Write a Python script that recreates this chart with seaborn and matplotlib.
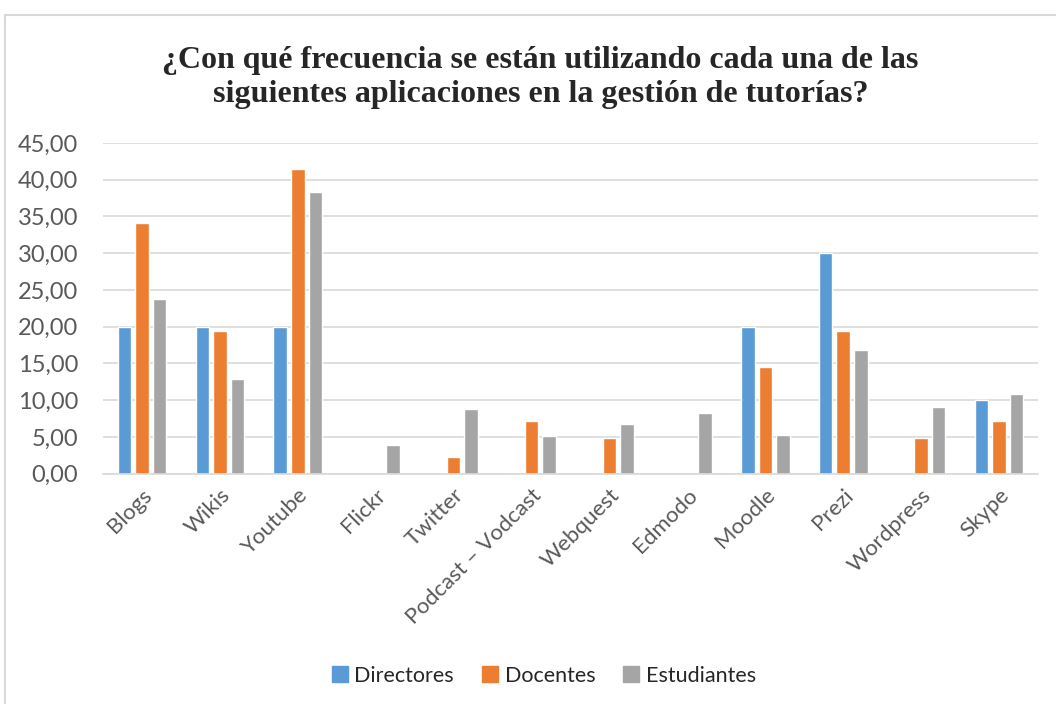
import matplotlib
matplotlib.use("Agg")
import matplotlib.pyplot as plt
import matplotlib.patches as mpatches
import pandas as pd
import seaborn as sns

apps = ["Blogs", "Wikis", "Youtube", "Flickr", "Twitter", "Podcast – Vodcast",
        "Webquest", "Edmodo", "Moodle", "Prezi", "Wordpress", "Skype"]
groups = ["Directores", "Docentes", "Estudiantes"]
directores = [20.0, 20.0, 20.0, 0.0, 0.0, 0.0, 0.0, 0.0, 20.0, 30.0, 0.0, 10.0]
docentes = [34.1, 19.4, 41.4, 0.0, 2.3, 7.2, 4.8, 0.0, 14.5, 19.4, 4.8, 7.2]
estudiantes = [23.8, 12.9, 38.3, 3.9, 8.8, 5.1, 6.8, 8.2, 5.3, 16.8, 9.1, 10.8]
colors = ["#5B9BD5", "#ED7D31", "#A5A5A5"]

title = "¿Con qué frecuencia se están utilizando cada una de las\nsiguientes aplicaciones en la gestión de tutorías?"

rows = []
for g, vals in zip(groups, [directores, docentes, estudiantes]):
    for a, v in zip(apps, vals):
        rows.append({"app": a, "grupo": g, "valor": v})
df = pd.DataFrame(rows)

sns.set_theme(style="white")
plt.rcParams["font.family"] = ["Lato", "DejaVu Sans"]

fig = plt.figure(figsize=(10.56, 7.04), dpi=100)
ax = fig.add_axes([0.0975, 0.327, 0.8855, 0.47])

sns.barplot(data=df, x="app", y="valor", hue="grupo", order=apps, hue_order=groups,
            palette=colors, width=0.675, gap=0.23, saturation=1, ax=ax, legend=False)

ax.set_ylim(0, 45)
ax.set_yticks(range(0, 46, 5))
ax.set_yticklabels([f"{v},00" for v in range(0, 46, 5)], fontsize=17, color="#595959")
ax.set_xticks(range(len(apps)))
ax.set_xticklabels(apps, rotation=45, ha="right", rotation_mode="anchor",
                   fontsize=16, color="#595959")
ax.tick_params(axis="y", length=0, pad=18)
ax.tick_params(axis="x", length=0, pad=8)
ax.set_xlabel("")
ax.set_ylabel("")
ax.yaxis.grid(True, color="#d9d9d9", linewidth=1.2)
ax.set_axisbelow(True)
for side in ["left", "right", "top"]:
    ax.spines[side].set_visible(False)
ax.spines["bottom"].set_color("#d9d9d9")
ax.spines["bottom"].set_linewidth(1.2)

fig.text(0.512, 0.89, title, ha="center", va="center", fontsize=23, fontweight="bold",
         family=["Liberation Serif", "DejaVu Serif"], linespacing=1.2)

handles = [mpatches.Patch(color=c, label=g) for g, c in zip(groups, colors)]
fig.legend(handles=handles, loc="center", bbox_to_anchor=(0.515, 0.04), ncol=3, frameon=False,
           fontsize=15.5, handlelength=0.75, handleheight=0.75, handletextpad=0.3, columnspacing=1.3)

border = mpatches.Rectangle((5 / 1056, -0.01), 1.02, 1 - 15 / 704 + 0.01, transform=fig.transFigure,
                            fill=False, edgecolor="#d9d9d9", linewidth=1.5)
fig.patches.append(border)

fig.savefig("out.png", dpi=100)
